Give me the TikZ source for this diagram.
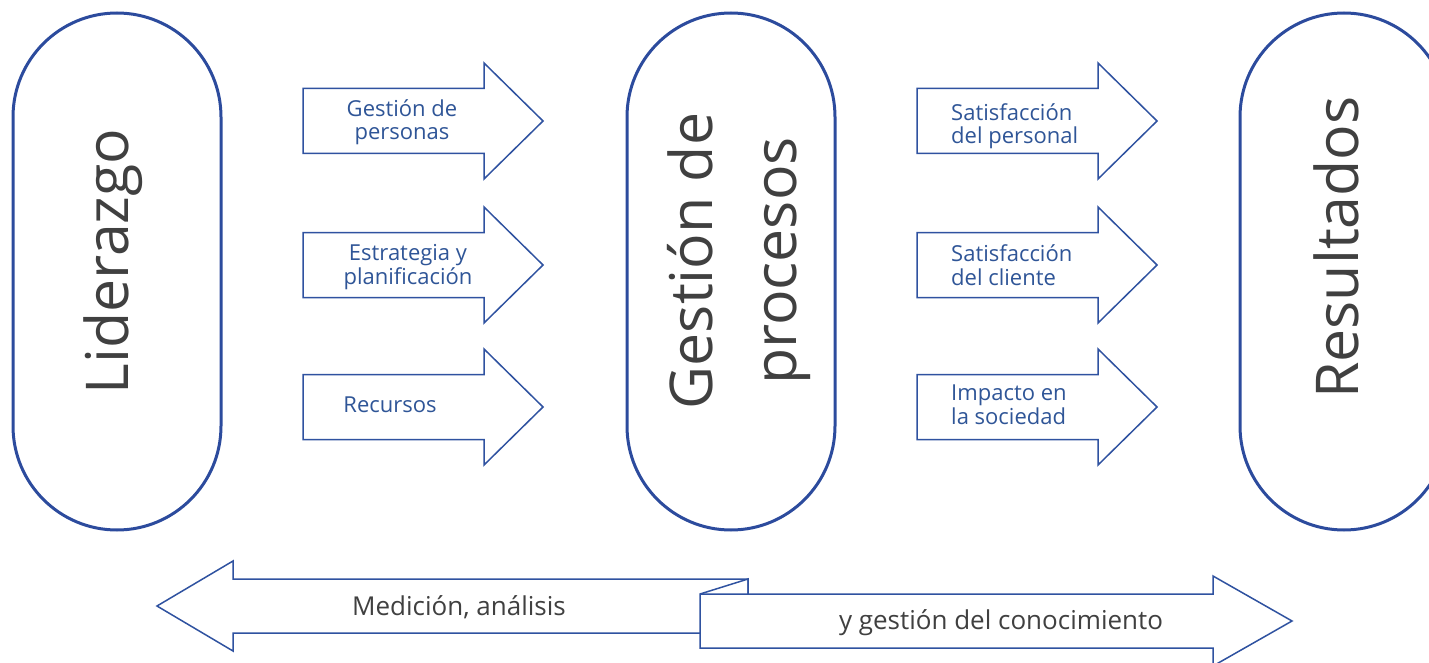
\documentclass[tikz,border=0pt]{standalone}
\usepackage{fontspec}
\setmainfont{Open Sans}
\definecolor{outl}{RGB}{44,75,157}
\definecolor{arrl}{RGB}{47,82,160}
\definecolor{blutxt}{RGB}{47,85,151}
\definecolor{grytxt}{RGB}{64,64,64}
\begin{document}
\begin{tikzpicture}[x=1pt,y=-1pt,
  stad/.style={draw=outl, line width=3pt, minimum width=208pt, minimum height=517pt, rounded corners=104pt, inner sep=0pt},
  bigtxt/.style={rotate=90, text=grytxt, font=\fontsize{59}{84}\selectfont, inner sep=0pt, align=center},
  lbl/.style={text=blutxt, font=\fontsize{22}{23.5}\selectfont, inner sep=0pt},
  btxt/.style={text=grytxt, font=\fontsize{26}{30}\selectfont, inner sep=0pt},
  blk/.style={draw=arrl, line width=1.5pt, fill=white},
  rarr/.pic={\path[blk] (0,-32.5) -- (181,-32.5) -- (181,-58) -- (240,0) -- (181,58) -- (181,32.5) -- (0,32.5) -- cycle;}
]
\path[use as bounding box] (0,0) rectangle (1429,663);
\clip (0,0) rectangle (1429,663);
% pillars
\node[stad] (lid) at (117,271.5) {};
\node[stad] (gp) at (731,271.5) {};
\node[stad] (res) at (1344,271.5) {};
\node[bigtxt, anchor=base] (tlid) at (128,261.5) {Liderazgo};
\node[bigtxt] (tgp) at (739,261) {Gestión de\\procesos};
\node[bigtxt, anchor=base] (tres) at (1358,247.5) {Resultados};
% left block arrows
\pic at (303,121) {rarr};
\pic at (303,265) {rarr};
\pic at (303,407) {rarr};
% right block arrows
\pic at (917,121) {rarr};
\pic at (917,265) {rarr};
\pic at (917,407) {rarr};
\node[lbl, align=center] (l1) at (402,122) {Gestión de\\personas};
\node[lbl, align=center] (l2) at (408,267) {Estrategia y\\planificación};
\node[lbl] (l3) at (390,405) {Recursos};
\node[lbl, align=left, anchor=west] (r1) at (951,126) {Satisfacción\\del personal};
\node[lbl, align=left, anchor=west] (r2) at (951,265) {Satisfacción\\del cliente};
\node[lbl, align=left, anchor=west] (r3) at (951,405) {Impacto en\\la sociedad};
% bottom ribbon
\path[blk] (748,579) -- (233,579) -- (233,561) -- (157,606) -- (233,651) -- (233,633) -- (748,633) -- cycle;
\path[blk] (700,594) -- (1213,594) -- (1213,576) -- (1292,621) -- (1213,666) -- (1213,648) -- (700,648) -- cycle;
\draw[blk, fill=none] (700,594) -- (748,579) -- (748,594);
\node[btxt, anchor=base] (m1) at (459,615) {Medición, análisis};
\node[btxt, anchor=base] (m2) at (1001,629) {y gestión del conocimiento};
\end{tikzpicture}
\end{document}
